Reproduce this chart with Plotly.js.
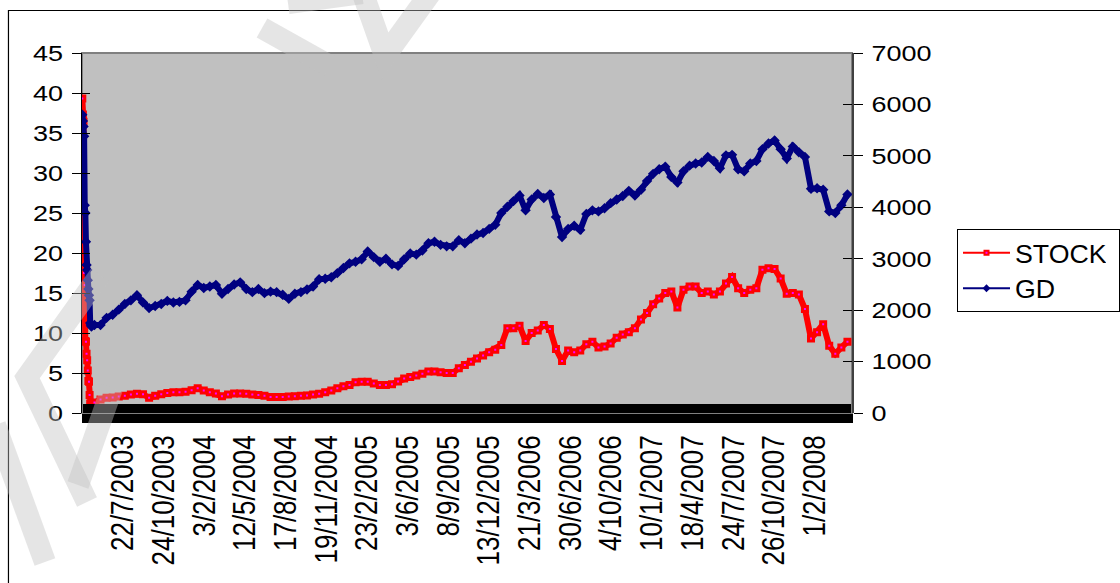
<!DOCTYPE html>
<html>
<head>
<meta charset="utf-8">
<script src="https://cdn.plot.ly/plotly-3.0.1.min.js"></script>
<style>
  html, body { margin: 0; padding: 0; background: #fff; overflow: hidden; }
  #chart { width: 1120px; height: 583px; }
</style>
</head>
<body>
<div id="chart"></div>
<script>
// First sessions: one value per trading day (days 0..16)
const stockOpen = [39.3, 37.3, 36.4, 17.5, 16.0, 9.0, 8.9, 7.4, 6.6, 5.3, 4.0, 3.9, 2.25, 1.2, 0.8, 1.0, 1.1];
const gdOpen = [5800, 5680, 5570, 5380, 4040, 3890, 3330, 2880, 2780, 2580, 2410, 2290, 2190, 1750, 1710, 1680, 1700];

// From trading day 20 on: one value every 10 trading days
const stockSeries = [
  1.3, 1.7, 1.9, 1.95, 2.05, 2.15, 2.3, 2.4, 2.35, 1.9,
  2.15, 2.35, 2.5, 2.6, 2.6, 2.65, 2.85, 3.1, 2.8, 2.6,
  2.45, 2.1, 2.3, 2.45, 2.45, 2.4, 2.3, 2.25, 2.15, 2.0,
  2.0, 2.0, 2.05, 2.1, 2.15, 2.2, 2.3, 2.4, 2.6, 2.8,
  3.1, 3.35, 3.5, 3.85, 3.9, 3.9, 3.7, 3.5, 3.5, 3.6,
  3.95, 4.3, 4.5, 4.7, 4.9, 5.2, 5.2, 5.1, 5.0, 5.0,
  5.6, 6.0, 6.4, 6.8, 7.2, 7.6, 7.9, 8.5, 10.6, 10.6,
  10.9, 9.0, 10.0, 10.3, 11.0, 10.5, 8.0, 6.5, 7.8, 7.6,
  7.8, 8.6, 8.9, 8.2, 8.3, 8.7, 9.4, 9.8, 10.1, 10.6,
  11.7, 12.5, 13.6, 14.3, 15.0, 15.2, 13.2, 15.4, 15.8, 15.8,
  15.0, 15.2, 14.8, 15.2, 16.2, 17.0, 15.6, 15.0, 15.4, 15.6,
  17.9, 18.1, 18.0, 16.8, 14.9, 15.0, 14.8, 13.0, 9.3, 10.1,
  11.1, 8.4, 7.4, 8.2, 8.9
];
const gdSeries = [
  1710, 1710, 1850, 1910, 2010, 2120, 2190, 2290, 2150, 2040,
  2080, 2120, 2180, 2150, 2160, 2190, 2360, 2490, 2430, 2460,
  2490, 2320, 2410, 2500, 2540, 2410, 2350, 2410, 2330, 2360,
  2350, 2300, 2220, 2320, 2350, 2400, 2460, 2600, 2610, 2640,
  2720, 2820, 2910, 2940, 2990, 3140, 3030, 2940, 3000, 2890,
  2860, 2990, 3100, 3080, 3160, 3300, 3330, 3270, 3240, 3240,
  3360, 3300, 3390, 3470, 3500, 3580, 3660, 3890, 4010, 4120,
  4230, 3940, 4150, 4260, 4180, 4250, 3810, 3420, 3580, 3640,
  3560, 3870, 3940, 3920, 3980, 4080, 4150, 4220, 4320, 4230,
  4340, 4510, 4650, 4740, 4790, 4590, 4480, 4700, 4810, 4850,
  4870, 4980, 4900, 4760, 5010, 5020, 4740, 4700, 4850, 4900,
  5130, 5240, 5300, 5130, 4950, 5180, 5070, 4980, 4360, 4370,
  4340, 3920, 3890, 4040, 4250
];

const FIRST_SAMPLED_DAY = 20;
const SAMPLE_STEP = 10;
const TOTAL_DAYS = 1268;

// Category axis labels, shown every 67 trading days
const tickDays = [67, 134, 201, 268, 335, 402, 469, 536, 603, 670, 737, 804, 871, 938, 1005, 1072, 1139, 1206];
const tickLabels = ['22/7/2003', '24/10/2003', '3/2/2004', '12/5/2004', '17/8/2004', '19/11/2004',
  '23/2/2005', '3/6/2005', '8/9/2005', '13/12/2005', '21/3/2006', '30/6/2006',
  '4/10/2006', '10/1/2007', '18/4/2007', '24/7/2007', '26/10/2007', '1/2/2008'];

// trading-day index of every stored value
const days = stockOpen.map((_, i) => i)
  .concat(stockSeries.map((_, i) => FIRST_SAMPLED_DAY + i * SAMPLE_STEP));
const stock = stockOpen.concat(stockSeries);
const gd = gdOpen.concat(gdSeries);

const RED = '#ff0000', NAVY = '#000080';
const xRange = [-0.5, TOTAL_DAYS - 0.5];

// plot-area geometry in pixels, used for the paper-referenced decorations
const M = { l: 82, r: 268, t: 53, b: 170 };
const W = 1120 - M.l - M.r, H = 583 - M.t - M.b;
const px = (x, y) => ((x - M.l) / W).toFixed(4) + ',' + ((583 - M.b - y) / H).toFixed(4);
const poly = pts => 'M ' + pts.map(p => px(p[0], p[1])).join(' L ');

const stamp = 'rgba(192,192,192,0.42)';
const stampStrokes = [
  [[100, 275], [27, 377], [87, 502]],
  [[-5, 425], [45, 562]],
  [[78, 485], [112, 388]],
  [[262, 28], [330, 66]],
  [[361, -12], [385, 56], [434, -12]],
  [[288, 3], [362, -7]]
];

const traces = [
  {
    x: days, y: stock, yaxis: 'y', type: 'scatter', mode: 'lines+markers',
    name: 'STOCK', showlegend: false, hoverinfo: 'skip',
    line: { color: RED, width: 6 },
    marker: { symbol: 'square', size: 5, color: '#ff00ff', line: { color: RED, width: 3 } }
  },
  {
    x: days, y: gd, yaxis: 'y2', type: 'scatter', mode: 'lines+markers',
    name: 'GD', showlegend: false, hoverinfo: 'skip',
    line: { color: NAVY, width: 6 },
    marker: { symbol: 'diamond', size: 8, color: NAVY }
  },
  // legend entries
  {
    x: [null], y: [null], yaxis: 'y', type: 'scatter', mode: 'lines+markers', name: 'STOCK',
    line: { color: RED, width: 2 },
    marker: { symbol: 'square', size: 4, color: '#ff00ff', line: { color: RED, width: 2 } }
  },
  {
    x: [null], y: [null], yaxis: 'y2', type: 'scatter', mode: 'lines+markers', name: 'GD',
    line: { color: NAVY, width: 2 },
    marker: { symbol: 'diamond', size: 6, color: NAVY }
  },
  // carriers for the tick-mark axes
  { x: [null], y: [null], xaxis: 'x2', yaxis: 'y', showlegend: false, hoverinfo: 'skip' },
  { x: [null], y: [null], xaxis: 'x3', yaxis: 'y', showlegend: false, hoverinfo: 'skip' },
  { x: [null], y: [null], xaxis: 'x', yaxis: 'y3', showlegend: false, hoverinfo: 'skip' },
  { x: [null], y: [null], xaxis: 'x', yaxis: 'y4', showlegend: false, hoverinfo: 'skip' }
];

const denseTicks = inside => ({
  overlaying: 'x', anchor: 'y', range: xRange, tickmode: 'linear', tick0: 0, dtick: 1.5,
  ticks: inside ? 'inside' : 'outside', ticklen: 9, tickwidth: 1, tickcolor: '#000',
  showticklabels: false, showgrid: false, zeroline: false, showline: false, fixedrange: true
});

const layout = {
  width: 1120, height: 583,
  margin: { l: M.l, r: M.r, t: M.t, b: M.b, pad: 0 },
  paper_bgcolor: '#ffffff', plot_bgcolor: '#c0c0c0',
  font: { family: 'Liberation Sans, Arial, sans-serif', color: '#000' },
  showlegend: true,
  legend: {
    x: (957 - M.l) / W, y: (583 - M.b - 229) / H, xanchor: 'left', yanchor: 'top',
    bgcolor: '#ffffff', bordercolor: '#000', borderwidth: 1,
    font: { size: 25, color: '#000' }, itemwidth: 47, traceorder: 'normal'
  },
  xaxis: {
    range: xRange, tickmode: 'array', tickvals: tickDays, ticktext: tickLabels,
    tickangle: -90, ticks: 'outside', ticklen: 9, tickwidth: 1, tickcolor: '#000',
    tickfont: { size: 26 }, ticklabelstandoff: 2,
    showgrid: false, zeroline: false, showline: false, fixedrange: true
  },
  xaxis2: denseTicks(false),
  xaxis3: denseTicks(true),
  yaxis: {
    range: [0, 45], tickmode: 'linear', tick0: 0, dtick: 5,
    ticks: 'outside', ticklen: 9, tickwidth: 1, tickcolor: '#000',
    showline: true, linecolor: '#000', linewidth: 1.5,
    showgrid: false, zeroline: false, tickfont: { size: 22.5 }, ticklabelstandoff: 4, fixedrange: true
  },
  yaxis2: {
    overlaying: 'y', side: 'right', anchor: 'x', range: [0, 7000], tickmode: 'linear', tick0: 0, dtick: 1000,
    ticks: 'outside', ticklen: 9, tickwidth: 1, tickcolor: '#000',
    showline: true, linecolor: '#404040', linewidth: 2,
    showgrid: false, zeroline: false, tickfont: { size: 22.5 }, ticklabelstandoff: 4, fixedrange: true
  },
  yaxis3: {
    overlaying: 'y', side: 'left', anchor: 'x', range: [0, 45], tickmode: 'linear', tick0: 0, dtick: 5,
    ticks: 'inside', ticklen: 8, tickwidth: 1, tickcolor: '#000',
    showticklabels: false, showgrid: false, zeroline: false, showline: false, fixedrange: true
  },
  yaxis4: {
    overlaying: 'y', side: 'right', anchor: 'x', range: [0, 7000], tickmode: 'linear', tick0: 0, dtick: 1000,
    ticks: 'inside', ticklen: 9, tickwidth: 1, tickcolor: '#000',
    showticklabels: false, showgrid: false, zeroline: false, showline: false, fixedrange: true
  },
  shapes: [
    // plot-area frame
    { type: 'rect', xref: 'paper', yref: 'paper', x0: 0, y0: 0, x1: 1, y1: 1,
      line: { color: '#808080', width: 2 }, layer: 'below' },
    // chart-area border
    { type: 'path', xref: 'paper', yref: 'paper', layer: 'above',
      path: poly([[8.5, 600], [8.5, 10.5], [1130, 10.5]]), line: { color: '#000', width: 1.2 } }
  ].concat(stampStrokes.map(s => ({
    type: 'path', xref: 'paper', yref: 'paper', layer: 'above',
    path: poly(s), line: { color: stamp, width: 22 }
  })))
};

// widen text horizontally about a fixed screen x (left edge, right edge or centre)
function widen(selector, sx, pin) {
  const svg = document.querySelector('#chart svg.main-svg');
  document.querySelectorAll('#chart ' + selector).forEach(el => {
    const r = el.getBoundingClientRect();
    const sxPin = pin === 'right' ? r.right : pin === 'left' ? r.left : (r.left + r.right) / 2;
    const pt = svg.createSVGPoint();
    pt.x = sxPin; pt.y = r.top;
    const local = pt.matrixTransform(el.parentNode.getScreenCTM().inverse());
    const prev = el.getAttribute('transform') || '';
    el.setAttribute('transform',
      'translate(' + local.x + ',0) scale(' + sx + ',1) translate(' + (-local.x) + ',0) ' + prev);
  });
}

Plotly.newPlot('chart', traces, layout, { displayModeBar: false, staticPlot: true }).then(() => {
  widen('.xtick text', 1.2, 'centre');
  widen('.ytick text', 1.2, 'right');
  widen('.y2tick text', 1.2, 'left');
  widen('.legendtext', 1.07, 'left');
  // legend frame reaches out to the right edge of the chart area
  const bg = document.querySelector('#chart .legend rect.bg');
  if (bg) {
    const left = bg.getBoundingClientRect().left;
    bg.setAttribute('width', Math.max(+bg.getAttribute('width'), 1119 - left));
  }
});
</script>
</body>
</html>
